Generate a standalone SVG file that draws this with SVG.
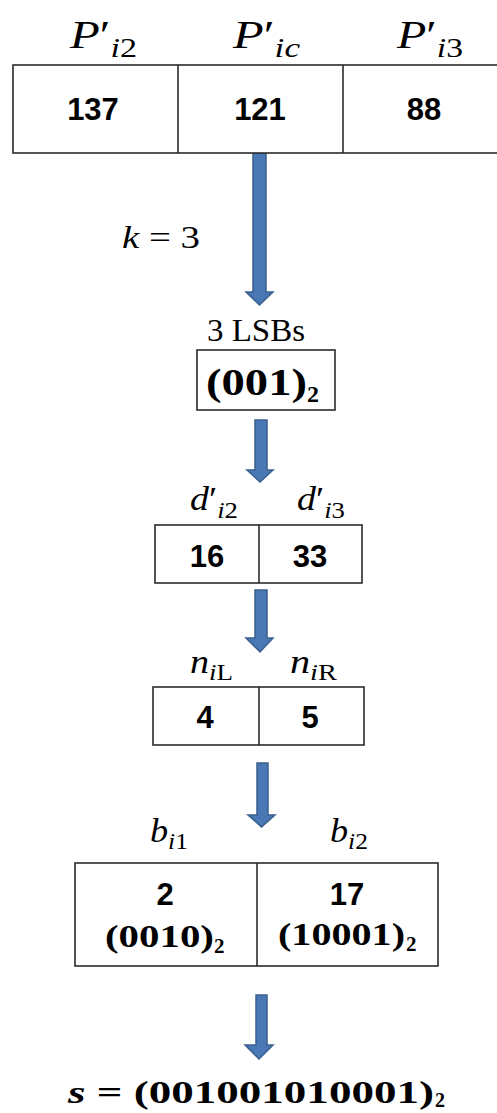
<svg xmlns="http://www.w3.org/2000/svg" width="497" height="1113" viewBox="0 0 497 1113">
<style>
.box{fill:#fff;stroke:#2b2b2b;stroke-width:1.6}
.div{stroke:#2b2b2b;stroke-width:1.6}
.arrow{fill:#4a78b4;stroke:#3a5f8e;stroke-width:1.5;stroke-linejoin:miter}
.num{font-family:"Liberation Sans",Arial,sans-serif;font-weight:bold;font-size:31px;fill:#000;text-anchor:middle}
.math{font-family:"Liberation Serif","DejaVu Serif",serif;fill:#000}
.it{font-style:italic}
.bm{font-family:"Liberation Serif","DejaVu Serif",serif;font-weight:bold;fill:#000}
</style>
<rect width="497" height="1113" fill="#fff"/>
<g id="connectors">
<polygon class="arrow" points="253,153 266,153 266,292 273,292 259.5,305 246,292 253,292"/>
<polygon class="arrow" points="255,420 267,420 267,470 273,470 260,482 247,470 255,470"/>
<polygon class="arrow" points="255,590 267,590 267,638 273,638 260,652 246,638 255,638"/>
<polygon class="arrow" points="257,763 268,763 268,815 275,815 261.5,827 248,815 257,815"/>
<polygon class="arrow" points="256,995 267,995 267,1045 273,1045 259,1059 245,1045 256,1045"/>
<text class="math" x="122" y="248" font-size="31" textLength="78" lengthAdjust="spacingAndGlyphs"><tspan class="it">k</tspan> = 3</text>
</g>
<g id="node-pixels">
<text class="math" x="70" y="48" font-size="40" textLength="67" lengthAdjust="spacingAndGlyphs"><tspan class="it">P</tspan>′<tspan class="it" font-size="28" dy="9">i</tspan><tspan font-size="28">2</tspan></text>
<text class="math" x="233" y="48" font-size="40" textLength="67" lengthAdjust="spacingAndGlyphs"><tspan class="it">P</tspan>′<tspan class="it" font-size="28" dy="9">ic</tspan></text>
<text class="math" x="397" y="48" font-size="40" textLength="66" lengthAdjust="spacingAndGlyphs"><tspan class="it">P</tspan>′<tspan class="it" font-size="28" dy="9">i</tspan><tspan font-size="28">3</tspan></text>
<rect class="box" x="13" y="65" width="500" height="88"/>
<line class="div" x1="178" y1="65" x2="178" y2="153"/>
<line class="div" x1="343" y1="65" x2="343" y2="153"/>
<text class="num" x="93" y="120">137</text>
<text class="num" x="260" y="120">121</text>
<text class="num" x="424" y="120">88</text>
</g>
<g id="node-lsb">
<text class="math" x="256" y="341" font-size="31" text-anchor="middle" textLength="98" lengthAdjust="spacingAndGlyphs">3 LSBs</text>
<rect class="box" x="197" y="350" width="138" height="60"/>
<text class="bm" x="206" y="395" font-size="38" textLength="101" lengthAdjust="spacingAndGlyphs">(001)</text>
<text class="bm" x="307" y="402" font-size="24">2</text>
</g>
<g id="node-diff">
<text class="math" x="190" y="510" font-size="34" textLength="48" lengthAdjust="spacingAndGlyphs"><tspan class="it">d</tspan>′<tspan class="it" font-size="24" dy="8">i</tspan><tspan font-size="24">2</tspan></text>
<text class="math" x="297" y="510" font-size="34" textLength="48" lengthAdjust="spacingAndGlyphs"><tspan class="it">d</tspan>′<tspan class="it" font-size="24" dy="8">i</tspan><tspan font-size="24">3</tspan></text>
<rect class="box" x="155" y="525" width="207" height="58"/>
<line class="div" x1="259" y1="525" x2="259" y2="583"/>
<text class="num" x="207" y="567">16</text>
<text class="num" x="310" y="567">33</text>
</g>
<g id="node-n">
<text class="math" x="190" y="673" font-size="34" textLength="43" lengthAdjust="spacingAndGlyphs"><tspan class="it">n</tspan><tspan class="it" font-size="24" dy="7">i</tspan><tspan font-size="24">L</tspan></text>
<text class="math" x="290" y="673" font-size="34" textLength="47" lengthAdjust="spacingAndGlyphs"><tspan class="it">n</tspan><tspan class="it" font-size="24" dy="7">i</tspan><tspan font-size="24">R</tspan></text>
<rect class="box" x="153" y="687" width="211" height="58"/>
<line class="div" x1="259" y1="687" x2="259" y2="745"/>
<text class="num" x="205" y="728">4</text>
<text class="num" x="310" y="728">5</text>
</g>
<g id="node-bits">
<text class="math" x="150" y="842" font-size="34" textLength="38" lengthAdjust="spacingAndGlyphs"><tspan class="it">b</tspan><tspan class="it" font-size="24" dy="7">i</tspan><tspan font-size="24">1</tspan></text>
<text class="math" x="330" y="842" font-size="34" textLength="38" lengthAdjust="spacingAndGlyphs"><tspan class="it">b</tspan><tspan class="it" font-size="24" dy="7">i</tspan><tspan font-size="24">2</tspan></text>
<rect class="box" x="75" y="863" width="363" height="103"/>
<line class="div" x1="257" y1="863" x2="257" y2="966"/>
<text class="num" x="165" y="905">2</text>
<text class="num" x="347" y="905">17</text>
<text class="bm" x="105" y="947" font-size="31" textLength="109" lengthAdjust="spacingAndGlyphs">(0010)</text>
<text class="bm" x="214" y="953" font-size="21">2</text>
<text class="bm" x="278" y="945" font-size="31" textLength="127" lengthAdjust="spacingAndGlyphs">(10001)</text>
<text class="bm" x="406" y="951" font-size="21">2</text>
</g>
<g id="node-s">
<text class="bm" x="68" y="1103" font-size="32" textLength="366" lengthAdjust="spacingAndGlyphs"><tspan font-style="italic">s</tspan> = (001001010001)</text>
<text class="bm" x="435" y="1107" font-size="20">2</text>
</g>
</svg>
